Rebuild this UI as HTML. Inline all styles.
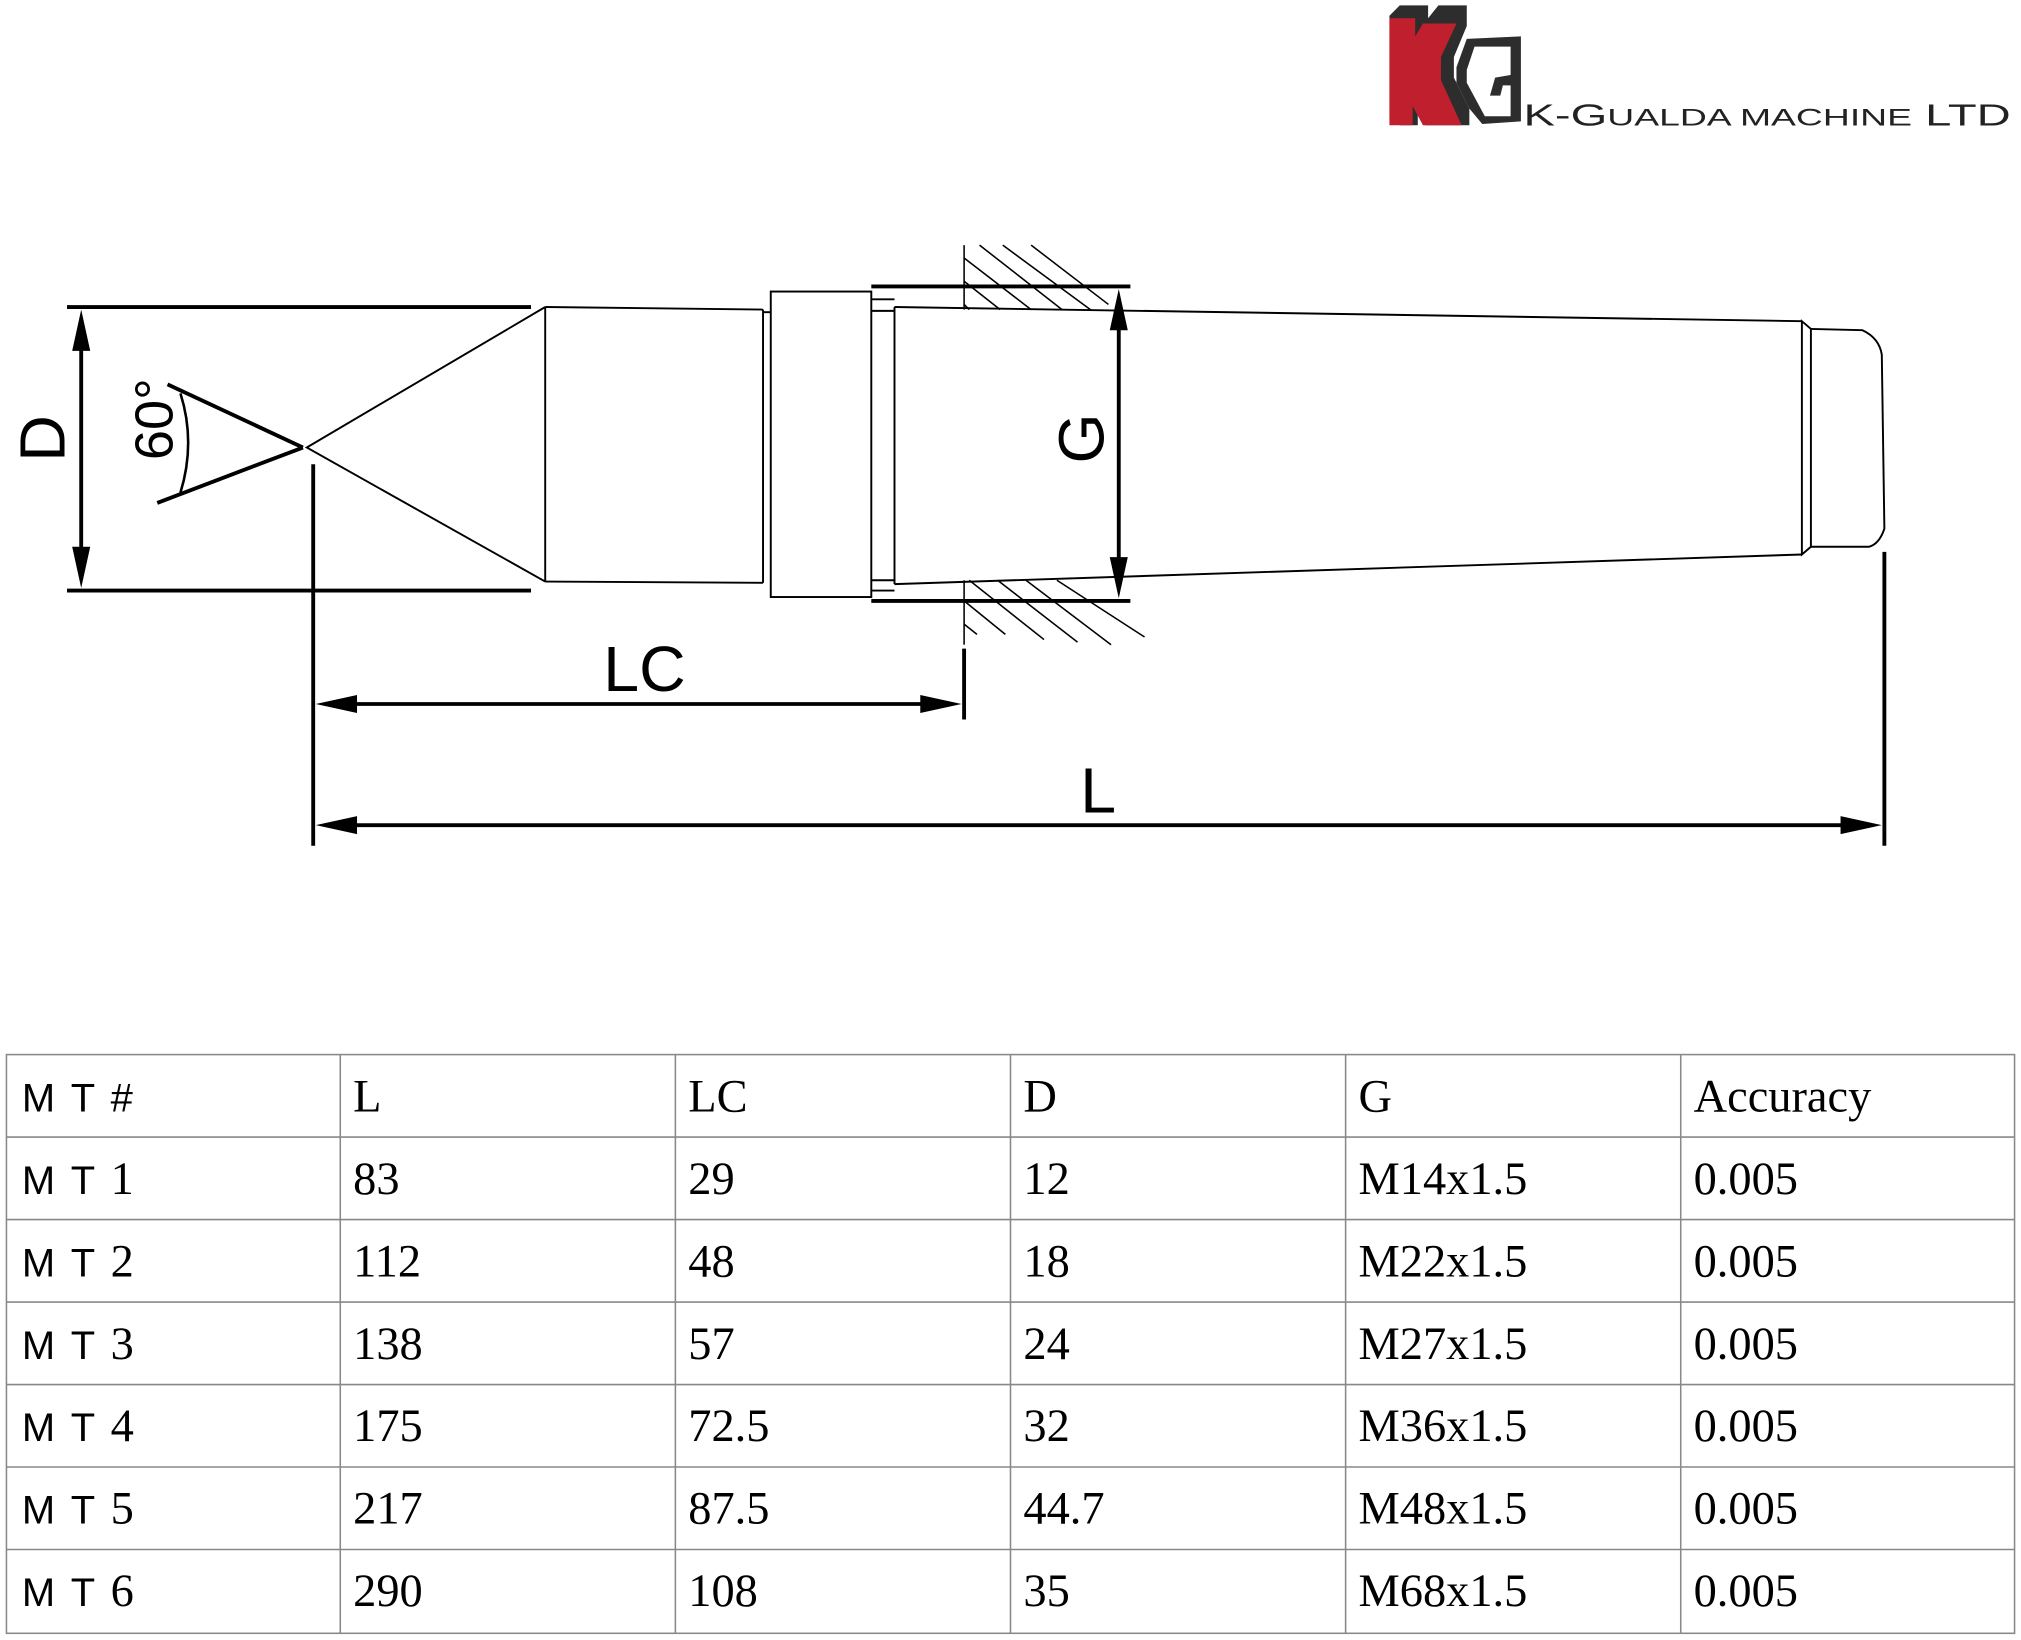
<!DOCTYPE html>
<html><head><meta charset="utf-8">
<style>
html,body{margin:0;padding:0;background:#fff;}
svg{display:block}
</style></head>
<body>
<svg width="2021" height="1640" viewBox="0 0 1568 1272" xmlns="http://www.w3.org/2000/svg">
<rect width="1568" height="1272" fill="#fff"/>
<g>
<polygon points="1078,12 1086,4 1108,4 1108,14 1116,4 1138,4 1138,20 1128,44 1128,60 1140,84 1140,97 1106,97 1100,88 1100,97 1086,97 1078,92" fill="#2d2d2d"/>
<polygon points="1078,14 1098,14 1098,28 1104,18 1130,18 1118,44 1118,62 1134,97 1104,97 1096,82 1096,97 1078,97" fill="#c01f2e"/>
<polygon points="1138,30 1180,28 1180,94 1150,96 1140,84 1130,64 1130,52" fill="#2d2d2d"/>
<polygon points="1144,36 1172,36 1172,58 1160,60 1156,74 1164,74 1166,66 1172,66 1172,90 1152,90 1138,64 1138,54" fill="#fff"/>
<text x="1182" y="97" font-family="Liberation Sans, sans-serif" font-size="24" textLength="378" lengthAdjust="spacingAndGlyphs" fill="#222">K-G<tspan font-size="19">UALDA MACHINE</tspan> LTD</text>
</g>

<g stroke="#000" fill="none">
<line x1="52" y1="238" x2="412" y2="238" stroke-width="3"/>
<line x1="52" y1="458" x2="412" y2="458" stroke-width="3"/>
<line x1="63" y1="265" x2="63" y2="432" stroke-width="3"/>
<polygon points="63,240 56,272 70,272" fill="#000" stroke="none"/>
<polygon points="63,456 56,424 70,424" fill="#000" stroke="none"/>
<polyline points="423,238 238,347 423,451" stroke-width="1.5"/>
<line x1="423" y1="238" x2="423" y2="451" stroke-width="1.5"/>
<line x1="423" y1="238" x2="592" y2="240" stroke-width="1.5"/>
<line x1="423" y1="451" x2="592" y2="452" stroke-width="1.5"/>
<polyline points="592,240 592,452" stroke-width="1.5"/>
<polyline points="592,242 598,242 M592,450 598,450" stroke-width="1.5"/>
<rect x="598" y="226" width="78" height="237" stroke-width="1.5"/>
<line x1="676" y1="241" x2="694" y2="241" stroke-width="1.5"/>
<line x1="676" y1="450" x2="694" y2="450" stroke-width="1.5"/>
<line x1="676" y1="232" x2="694" y2="232" stroke-width="1.5"/>
<line x1="676" y1="458" x2="694" y2="458" stroke-width="1.5"/>
<line x1="676" y1="222" x2="877" y2="222" stroke-width="3"/>
<line x1="676" y1="466" x2="877" y2="466" stroke-width="3"/>
<line x1="748" y1="190" x2="748" y2="240" stroke-width="1.2"/>
<line x1="748" y1="450" x2="748" y2="500" stroke-width="1.2"/>
<g stroke-width="1.2">
<line x1="748" y1="200" x2="800" y2="240"/>
<line x1="748" y1="218" x2="776" y2="240"/>
<line x1="760" y1="190" x2="824" y2="240"/>
<line x1="778" y1="190" x2="846" y2="240"/>
<line x1="800" y1="190" x2="860" y2="236"/>
<line x1="748" y1="236" x2="752" y2="240"/>
<line x1="748" y1="466" x2="780" y2="492"/>
<line x1="748" y1="484" x2="758" y2="492"/>
<line x1="752" y1="450" x2="810" y2="496"/>
<line x1="774" y1="450" x2="836" y2="498"/>
<line x1="796" y1="450" x2="862" y2="500"/>
<line x1="820" y1="450" x2="888" y2="494"/>
</g>
<line x1="694" y1="238" x2="694" y2="453" stroke-width="1.5"/>
<line x1="694" y1="238" x2="1398" y2="249" stroke-width="1.5"/>
<line x1="694" y1="453" x2="1398" y2="430" stroke-width="1.5"/>
<path d="M1398,249 L1405,255 L1405,424 L1398,430 Z" stroke-width="1.5"/>
<path d="M1405,255 L1445,256 Q1458,262 1460,275 L1462,410 Q1458,422 1450,424 L1405,424" stroke-width="1.5"/>
<line x1="868" y1="250" x2="868" y2="440" stroke-width="3"/>
<polygon points="868,224 861,256 875,256" fill="#000" stroke="none"/>
<polygon points="868,464 861,432 875,432" fill="#000" stroke="none"/>
<line x1="130" y1="298" x2="235" y2="347" stroke-width="3"/>
<line x1="122" y1="390" x2="235" y2="347" stroke-width="3"/>
<path d="M140,305 Q152,343 140,382" stroke-width="2"/>
<line x1="243" y1="360" x2="243" y2="656" stroke-width="3"/>
<line x1="748" y1="503" x2="748" y2="558" stroke-width="3"/>
<line x1="270" y1="546" x2="722" y2="546" stroke-width="3"/>
<polygon points="245,546 277,539 277,553" fill="#000" stroke="none"/>
<polygon points="746,546 714,539 714,553" fill="#000" stroke="none"/>
<line x1="1462" y1="428" x2="1462" y2="656" stroke-width="3"/>
<line x1="270" y1="640" x2="1436" y2="640" stroke-width="3"/>
<polygon points="245,640 277,633 277,647" fill="#000" stroke="none"/>
<polygon points="1460,640 1428,633 1428,647" fill="#000" stroke="none"/>
</g>
<g font-family="Liberation Sans, sans-serif" fill="#000">
<text x="0" y="0" font-size="50" transform="translate(50,340) rotate(-90)" text-anchor="middle">D</text>
<text x="0" y="0" font-size="50" transform="translate(856,340) rotate(-90)" text-anchor="middle">G</text>
<text x="0" y="0" font-size="42" transform="translate(134,325) rotate(-90)" text-anchor="middle">60°</text>
<text x="500" y="536" font-size="50" text-anchor="middle">LC</text>
<text x="852" y="630" font-size="50" text-anchor="middle">L</text>
</g>
<g stroke="#888" stroke-width="1.2" fill="none">
<rect x="5" y="818" width="1558" height="449"/>
<line x1="5" y1="882" x2="1563" y2="882"/>
<line x1="5" y1="946" x2="1563" y2="946"/>
<line x1="5" y1="1010" x2="1563" y2="1010"/>
<line x1="5" y1="1074" x2="1563" y2="1074"/>
<line x1="5" y1="1138" x2="1563" y2="1138"/>
<line x1="5" y1="1202" x2="1563" y2="1202"/>
<line x1="264" y1="818" x2="264" y2="1267"/>
<line x1="524" y1="818" x2="524" y2="1267"/>
<line x1="784" y1="818" x2="784" y2="1267"/>
<line x1="1044" y1="818" x2="1044" y2="1267"/>
<line x1="1304" y1="818" x2="1304" y2="1267"/>
</g>
<g font-family="Liberation Serif, serif" font-size="36" fill="#000">
<text x="17" y="862" font-family="Liberation Sans, sans-serif" font-size="31" letter-spacing="2">M T #</text>
<text x="274" y="862">L</text><text x="534" y="862">LC</text><text x="794" y="862">D</text><text x="1054" y="862">G</text><text x="1314" y="862">Accuracy</text>
<text x="17" y="926" font-family="Liberation Sans, sans-serif" font-size="31" letter-spacing="2">M T <tspan font-family="Liberation Serif, serif" font-size="36" letter-spacing="0">1</tspan></text>
<text x="274" y="926">83</text><text x="534" y="926">29</text><text x="794" y="926">12</text><text x="1054" y="926">M14x1.5</text><text x="1314" y="926">0.005</text>
<text x="17" y="990" font-family="Liberation Sans, sans-serif" font-size="31" letter-spacing="2">M T <tspan font-family="Liberation Serif, serif" font-size="36" letter-spacing="0">2</tspan></text>
<text x="274" y="990">112</text><text x="534" y="990">48</text><text x="794" y="990">18</text><text x="1054" y="990">M22x1.5</text><text x="1314" y="990">0.005</text>
<text x="17" y="1054" font-family="Liberation Sans, sans-serif" font-size="31" letter-spacing="2">M T <tspan font-family="Liberation Serif, serif" font-size="36" letter-spacing="0">3</tspan></text>
<text x="274" y="1054">138</text><text x="534" y="1054">57</text><text x="794" y="1054">24</text><text x="1054" y="1054">M27x1.5</text><text x="1314" y="1054">0.005</text>
<text x="17" y="1118" font-family="Liberation Sans, sans-serif" font-size="31" letter-spacing="2">M T <tspan font-family="Liberation Serif, serif" font-size="36" letter-spacing="0">4</tspan></text>
<text x="274" y="1118">175</text><text x="534" y="1118">72.5</text><text x="794" y="1118">32</text><text x="1054" y="1118">M36x1.5</text><text x="1314" y="1118">0.005</text>
<text x="17" y="1182" font-family="Liberation Sans, sans-serif" font-size="31" letter-spacing="2">M T <tspan font-family="Liberation Serif, serif" font-size="36" letter-spacing="0">5</tspan></text>
<text x="274" y="1182">217</text><text x="534" y="1182">87.5</text><text x="794" y="1182">44.7</text><text x="1054" y="1182">M48x1.5</text><text x="1314" y="1182">0.005</text>
<text x="17" y="1246" font-family="Liberation Sans, sans-serif" font-size="31" letter-spacing="2">M T <tspan font-family="Liberation Serif, serif" font-size="36" letter-spacing="0">6</tspan></text>
<text x="274" y="1246">290</text><text x="534" y="1246">108</text><text x="794" y="1246">35</text><text x="1054" y="1246">M68x1.5</text><text x="1314" y="1246">0.005</text>
</g>
</svg>
</body></html>
